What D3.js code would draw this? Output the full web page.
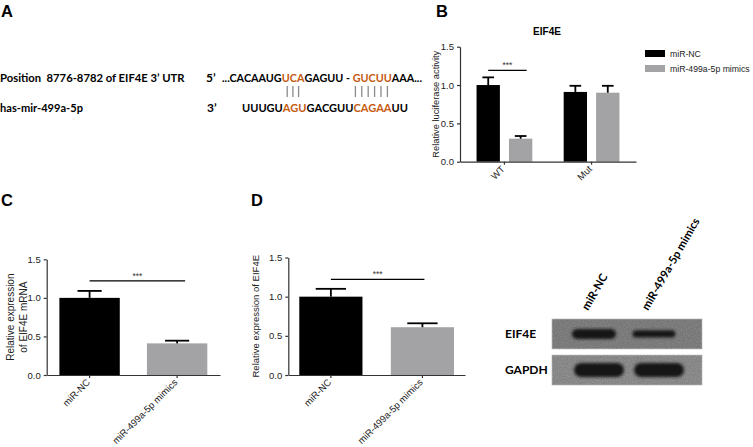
<!DOCTYPE html>
<html>
<head>
<meta charset="utf-8">
<style>
  body { margin: 0; background: #fff; }
  svg text { font-family: "Liberation Sans", Arial, sans-serif; }
  .seq { font-family: Lato, sans-serif; font-weight: 700; white-space: pre; }
  .blot { font-family: Lato, sans-serif; font-weight: 700; }
</style>
</head>
<body>
<script src="https://d3js.org/d3.v7.min.js"></script>
<script>

// ---- panel A: binding site ----
var utrLabel = "Position  8776-8782 of EIF4E 3\u2019 UTR";
var mirLabel = "has-mir-499a-5p";
var utrSeq = ["...CACAAUG", "UCA", "GAGUU - ", "GUCUU", "AAA..."];
var mirSeq = ["UUUGU", "AGU", "GACGUU", "CAGAA", "UU"];
var seqSeed = [false, true, false, true, false];   // which pieces pair (orange)
var pairCounts = [3, 6];

// ---- panel B: luciferase ----
var lucGroups = ["WT", "Mut"];
var lucSeries = ["miR-NC", "miR-499a-5p mimics"];
var lucNC = [1.00, 0.91];
var lucNCErr = [0.10, 0.08];
var lucMimic = [0.30, 0.90];
var lucMimicErr = [0.035, 0.09];

// ---- panel C: mRNA ----
var mrnaGroups = ["miR-NC", "miR-499a-5p mimics"];
var mrnaMean = [1.00, 0.41];
var mrnaErr = [0.09, 0.035];

// ---- panel D: protein ----
var protGroups = ["miR-NC", "miR-499a-5p mimics"];
var protMean = [1.00, 0.61];
var protErr = [0.10, 0.05];

var yTicks = [0, 0.5, 1.0, 1.5];

// ---- western blot ----
var blotRows = ["EIF4E", "GAPDH"];
var blotLanes = ["miR-NC", "miR-499a-5p mimics"];
var eif4eBand = [1.0, 0.72];
var gapdhBand = [1.0, 1.0];

var black = "#000", grey = "#a3a3a6", orange = "#c55a11";

var svg = d3.select("body").append("svg")
    .attr("width", 753)
    .attr("height", 447);

// panel letters
[["A", 1, 17], ["B", 436, 17], ["C", 1, 206], ["D", 251, 206]].forEach(function(p) {
  svg.append("text").text(p[0]).attr("x", p[1]).attr("y", p[2])
     .attr("font-size", 16.5).attr("font-weight", "bold");
});

// ---------- A ----------
var seqSize = 12;
// pieces laid end to end, then the whole line squeezed horizontally to width;
// returns the centre x of each orange piece
function seqLine(x0, y, width, parts, colourIt) {
  var g = svg.append("g");
  var x = 0, spans = [];
  parts.forEach(function(p, i) {
    var t = g.append("text").attr("class", "seq").text(p)
       .attr("x", x).attr("y", 0).attr("font-size", seqSize)
       .attr("fill", colourIt && seqSeed[i] ? orange : black);
    var w = t.node().getComputedTextLength();
    spans.push([x, w]);
    x += w;
  });
  var k = width ? width / x : 1;
  g.attr("transform", "translate(" + x0 + "," + y + ") scale(" + k + ",1)");
  return spans.filter(function(s, i) { return colourIt && seqSeed[i]; })
              .map(function(s) { return x0 + (s[0] + s[1] / 2) * k; });
}
seqLine(0, 82, 185, [utrLabel], false);
seqLine(0, 112, 83, [mirLabel], false);
seqLine(206, 82, 0, ["5\u2019"], false);
seqLine(207, 112, 0, ["3\u2019"], false);
var cTop = seqLine(222, 82, 200, utrSeq, true);
var cBot = seqLine(242, 112, 166, mirSeq, true);

pairCounts.forEach(function(n, k) {
  var c = (cTop[k] + cBot[k]) / 2 - 1;
  var gap = k === 0 ? 5.7 : 6.4;
  d3.range(n).forEach(function(i) {
    var x = c + (i - (n - 1) / 2) * gap;
    svg.append("line").attr("x1", x).attr("x2", x).attr("y1", 86).attr("y2", 97)
       .attr("stroke", "#8a8a8a").attr("stroke-width", 1.3);
  });
});

// ---------- shared bits ----------
function yAxis(g, y) {
  g.call(d3.axisLeft(y).tickValues(yTicks).tickFormat(d3.format(".1f")).tickSize(3).tickSizeOuter(0));
}
function styleAxis(g) {
  g.selectAll("path, line").attr("stroke", "#333").attr("stroke-width", 1.2);
  g.selectAll("text").attr("font-size", 9.5).attr("fill", "#222");
}
function errBar(g, cx, yTop, yErr, capW) {
  g.append("line").attr("x1", cx).attr("x2", cx).attr("y1", yTop).attr("y2", yErr)
   .attr("stroke", "#000").attr("stroke-width", 1.8);
  g.append("line").attr("x1", cx - capW / 2).attr("x2", cx + capW / 2).attr("y1", yErr).attr("y2", yErr)
   .attr("stroke", "#000").attr("stroke-width", 1.8);
}
function sig(g, xa, xb, yv) {
  g.append("line").attr("x1", xa).attr("x2", xb).attr("y1", yv).attr("y2", yv)
   .attr("stroke", "#000").attr("stroke-width", 1.3);
  g.append("text").text("***").attr("x", (xa + xb) / 2).attr("y", yv - 2)
   .attr("text-anchor", "middle").attr("font-size", 8.5).attr("fill", "#333");
}
function rotLabels(g) {
  g.selectAll(".tick text")
   .attr("text-anchor", "end")
   .attr("x", 0).attr("y", 0).attr("dx", 0).attr("dy", 0)
   .attr("transform", "translate(1,8) rotate(-45)");
}

// ---------- B ----------
(function() {
  var g = svg.append("g");
  var y = d3.scaleLinear().domain([0, 1.5]).range([161.7, 46.7]);
  var x = d3.scaleBand().domain(lucGroups).range([460, 636]).paddingInner(0.36).paddingOuter(0.19);
  var xs = d3.scaleBand().domain(lucSeries).range([0, x.bandwidth()]).paddingInner(0.28);
  var vals = [lucNC, lucMimic], errs = [lucNCErr, lucMimicErr], cols = [black, grey];

  lucSeries.forEach(function(s, si) {
    lucGroups.forEach(function(gr, gi) {
      var bx = x(gr) + xs(s);
      g.append("rect").attr("x", bx).attr("y", y(vals[si][gi]))
       .attr("width", xs.bandwidth()).attr("height", y(0) - y(vals[si][gi]))
       .attr("fill", cols[si]);
      errBar(g, bx + xs.bandwidth() / 2, y(vals[si][gi]), y(vals[si][gi] + errs[si][gi]), xs.bandwidth() * 0.5);
    });
  });
  var ya = g.append("g").attr("transform", "translate(460,0)");
  yAxis(ya, y); styleAxis(ya);
  var xa = g.append("g").attr("transform", "translate(0,161.7)")
      .call(d3.axisBottom(x).tickSize(3).tickSizeOuter(0));
  styleAxis(xa); rotLabels(xa);

  sig(g, x("WT") + xs(lucSeries[0]) + xs.bandwidth() / 2, x("WT") + xs(lucSeries[1]) + xs.bandwidth() / 2 + 6, y(1.19));

  g.append("text").text("EIF4E").attr("x", 547).attr("y", 35).attr("text-anchor", "middle")
   .attr("font-size", 10).attr("font-weight", "bold");
  g.append("text").text("Relative luciferase activity")
   .attr("transform", "translate(436," + (y(0.75)) + ") rotate(-90)")
   .attr("text-anchor", "middle").attr("dy", "0.35em").attr("font-size", 9.3).attr("fill", "#222");

  var leg = g.selectAll(".leg").data(lucSeries).join("g")
     .attr("transform", function(d, i) { return "translate(645," + (50 + i * 15) + ")"; });
  leg.append("rect").attr("width", 20).attr("height", 7).attr("fill", function(d, i) { return cols[i]; });
  leg.append("text").text(function(d) { return d; }).attr("x", 25).attr("y", 3.5).attr("dy", "0.35em")
     .attr("font-size", 8.7).attr("fill", "#222");
})();

// ---------- C & D ----------
function simplePanel(o) {
  var g = svg.append("g");
  var y = d3.scaleLinear().domain([0, 1.5]).range([o.y0, o.y1]);
  var x = d3.scaleBand().domain(o.groups).range([o.x0, o.x1]).paddingInner(0.31).paddingOuter(o.po);
  var cols = [black, grey];
  o.groups.forEach(function(gr, i) {
    g.append("rect").attr("x", x(gr)).attr("y", y(o.mean[i]))
     .attr("width", x.bandwidth()).attr("height", y(0) - y(o.mean[i])).attr("fill", cols[i]);
    errBar(g, x(gr) + x.bandwidth() / 2, y(o.mean[i]), y(o.mean[i] + o.err[i]), x.bandwidth() * o.cap);
  });
  var ya = g.append("g").attr("transform", "translate(" + o.x0 + ",0)");
  yAxis(ya, y); styleAxis(ya);
  var xa = g.append("g").attr("transform", "translate(0," + o.y0 + ")")
      .call(d3.axisBottom(x).tickSize(3).tickSizeOuter(0));
  styleAxis(xa); rotLabels(xa);
  sig(g, x(o.groups[0]) + x.bandwidth() / 2, x(o.groups[1]) + x.bandwidth() / 2 + o.sigExtra, y(1.22));
  o.label.forEach(function(l, i) {
    g.append("text").text(l)
     .attr("transform", "translate(" + o.lx[i] + "," + y(0.75) + ") rotate(-90)")
     .attr("text-anchor", "middle").attr("dy", "0.35em").attr("font-size", o.lsize).attr("fill", "#222");
  });
}
simplePanel({ groups: mrnaGroups, mean: mrnaMean, err: mrnaErr, x0: 46.7, x1: 220, y0: 375, y1: 259.3,
  po: 0.145, cap: 0.4, sigExtra: 8, label: ["Relative expression", "of EIF4E mRNA"], lx: [10, 23], lsize: 10 });
simplePanel({ groups: protGroups, mean: protMean, err: protErr, x0: 288.3, x1: 465, y0: 375, y1: 257.5,
  po: 0.12, cap: 0.48, sigExtra: 2, label: ["Relative expression of EIF4E"], lx: [256], lsize: 9.5 });

// ---------- western blot ----------
(function() {
  var defs = svg.append("defs");
  defs.append("filter").attr("id", "soft").attr("x", "-20%").attr("y", "-50%").attr("width", "140%").attr("height", "200%")
      .append("feGaussianBlur").attr("stdDeviation", 1.6);
  var f = defs.append("filter").attr("id", "grain");
  f.append("feTurbulence").attr("type", "fractalNoise").attr("baseFrequency", 0.8).attr("numOctaves", 2).attr("seed", 3);
  f.append("feColorMatrix").attr("type", "matrix")
   .attr("values", "0 0 0 0 0  0 0 0 0 0  0 0 0 0 0  0 0 0 0.25 0");
  f.append("feComposite").attr("in2", "SourceGraphic").attr("operator", "in");

  var g = svg.append("g");
  var rows = d3.scaleBand().domain(blotRows).range([319, 385]).paddingInner(0.17);
  var lanes = d3.scaleBand().domain(blotLanes).range([552, 702]).paddingOuter(0.25);
  var bands = [eif4eBand, gapdhBand], fills = ["#8d8d8d", "#9c9c9c"], baseH = [10, 14], bw = [44, 50];

  blotRows.forEach(function(r, ri) {
    g.append("rect").attr("x", 552).attr("y", rows(r)).attr("width", 150).attr("height", rows.bandwidth())
     .attr("fill", fills[ri]).attr("stroke", "#c4c4c4").attr("stroke-width", 0.8);
    g.append("rect").attr("x", 552).attr("y", rows(r)).attr("width", 150).attr("height", rows.bandwidth())
     .attr("fill", "#fff").attr("filter", "url(#grain)");
    blotLanes.forEach(function(l, li) {
      var v = bands[ri][li], h = baseH[ri] * v, w = bw[ri] * (0.9 + 0.1 * v);
      var cx = lanes(l) + lanes.bandwidth() / 2 + (ri === 0 ? -3 : 2);
      g.append("rect").attr("x", cx - w / 2).attr("y", rows(r) + rows.bandwidth() / 2 - h / 2)
       .attr("width", w).attr("height", h).attr("rx", h / 2)
       .attr("fill", "#141414").attr("filter", "url(#soft)");
    });
    g.append("text").attr("class", "blot").text(r).attr("x", 505)
     .attr("y", rows(r) + rows.bandwidth() / 2).attr("dy", "0.35em").attr("font-size", 12);
  });
  blotLanes.forEach(function(l) {
    g.append("text").attr("class", "blot").text(l)
     .attr("transform", "translate(" + (lanes(l) + lanes.bandwidth() / 2 - 9) + ",311) rotate(-60)")
     .attr("font-size", 11.3);
  });
})();

</script>
</body>
</html>
